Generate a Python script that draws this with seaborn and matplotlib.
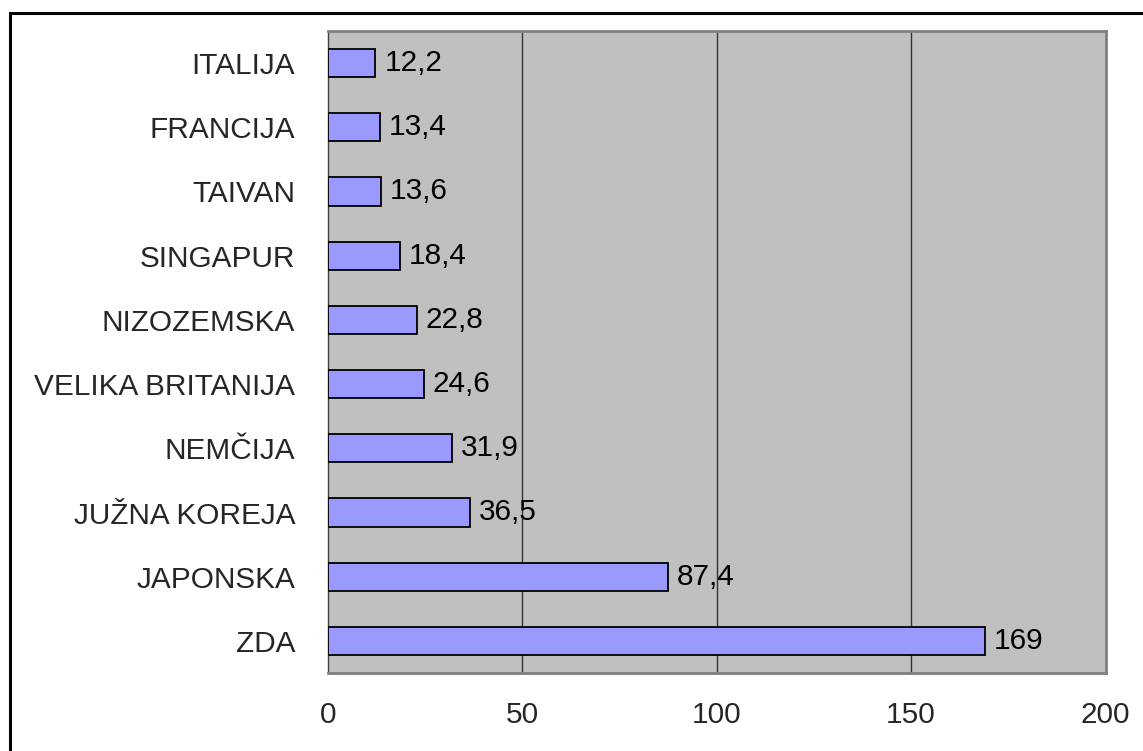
import numpy as np
import pandas as pd
import matplotlib
matplotlib.use("Agg")
import matplotlib.pyplot as plt
from matplotlib.patches import Rectangle
import seaborn as sns

countries = ["ITALIJA", "FRANCIJA", "TAIVAN", "SINGAPUR", "NIZOZEMSKA",
             "VELIKA BRITANIJA", "NEMČIJA", "JUŽNA KOREJA", "JAPONSKA", "ZDA"]
values = [12.2, 13.4, 13.6, 18.4, 22.8, 24.6, 31.9, 36.5, 87.4, 169]
value_labels = ["12,2", "13,4", "13,6", "18,4", "22,8", "24,6", "31,9", "36,5", "87,4", "169"]
x_ticks = [0, 50, 100, 150, 200]

df = pd.DataFrame({"country": countries, "value": values})

sns.set_style("white")
plt.rcParams["font.family"] = ["Liberation Sans", "DejaVu Sans"]
FS = 21.4

fig = plt.figure(figsize=(11.43, 7.51), dpi=100)
ax = fig.add_axes([328 / 1143, 1 - 673 / 751, (1105.5 - 328) / 1143, (673 - 31) / 751])
ax.set_facecolor("#C0C0C0")

sns.barplot(data=df, x="value", y="country", order=countries, orient="h",
            color="#9999FF", saturation=1, width=0.44,
            edgecolor="black", linewidth=1.3, ax=ax, zorder=3)

for i, (v, lab) in enumerate(zip(values, value_labels)):
    ax.annotate(lab, xy=(v, i), xytext=(6.5, 0), textcoords="offset points",
                va="center", ha="left", fontsize=FS, color="black", zorder=4)

ax.set_xlim(0, 200)
ax.set_ylim(9.5, -0.5)
ax.set_xticks(x_ticks)
ax.set_xticklabels([str(t) for t in x_ticks], fontsize=FS)
ax.tick_params(axis="x", direction="out", length=6, width=1, color="#404040", pad=14)

# category boundaries carry the tick marks, centres carry the labels
ax.set_yticks(np.arange(-0.5, 10, 1))
ax.set_yticklabels([])
ax.tick_params(axis="y", which="major", direction="out", length=6, width=1, color="#404040")
ax.set_yticks(range(len(countries)), minor=True)
ax.set_yticklabels(countries, minor=True, fontsize=FS)
ax.tick_params(axis="y", which="minor", length=0, pad=23.5)

for x in x_ticks[1:-1]:
    ax.axvline(x, color="#333333", lw=1, zorder=1)

ax.set_xlabel("")
ax.set_ylabel("")
for side in ["top", "right", "bottom"]:
    ax.spines[side].set_visible(True)
    ax.spines[side].set_color("#808080")
    ax.spines[side].set_linewidth(2)
ax.spines["left"].set_visible(True)
ax.spines["left"].set_color("#404040")
ax.spines["left"].set_linewidth(1)

# outer chart frame
fig.patches.append(Rectangle((9.5 / 1143, -0.05), 1.2, 1 - 12.5 / 751 + 0.05,
                             transform=fig.transFigure, fill=False,
                             edgecolor="black", lw=2.2, zorder=0))

fig.savefig("out.png", dpi=100)
